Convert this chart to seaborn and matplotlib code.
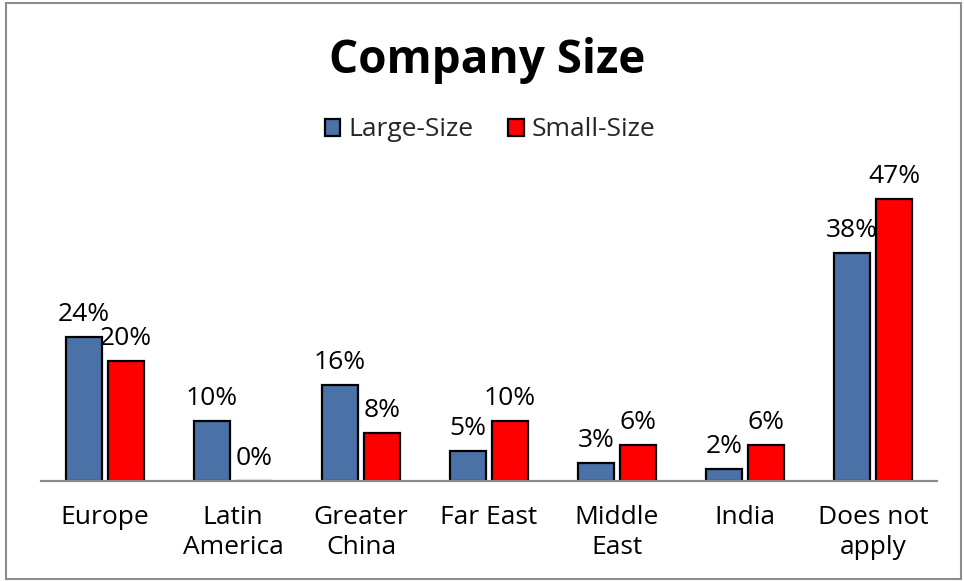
import matplotlib
matplotlib.use("Agg")
import matplotlib.pyplot as plt
import seaborn as sns
import pandas as pd
from matplotlib.patches import Rectangle

categories = ["Europe", "Latin\nAmerica", "Greater\nChina", "Far East", "Middle\nEast", "India", "Does not\napply"]
large_size = [24, 10, 16, 5, 3, 2, 38]
small_size = [20, 0, 8, 10, 6, 6, 47]
series = ["Large-Size", "Small-Size"]
colors = ["#4A72A6", "#FF0000"]

df = pd.DataFrame({
    "Region": categories * 2,
    "Value": large_size + small_size,
    "Series": [series[0]] * len(categories) + [series[1]] * len(categories),
})

sns.set_theme(style="white")
plt.rcParams["font.family"] = ["Open Sans", "DejaVu Sans"]

W, H = 964, 581
fig = plt.figure(figsize=(W / 100, H / 100), dpi=100)
ax = fig.add_axes([41 / W, (H - 481) / H, 896 / W, 300 / H])

sns.barplot(data=df, x="Region", y="Value", hue="Series", palette=colors,
            order=categories, hue_order=series, width=0.656, gap=0.14,
            saturation=1, edgecolor="black", linewidth=1.6, ax=ax, legend=True)

ax.set_ylim(0, 50)
ax.set_xlim(-0.5, len(categories) - 0.5)
ax.set_xlabel("")
ax.set_ylabel("")
ax.set_yticks([])
for s in ["top", "right", "left"]:
    ax.spines[s].set_visible(False)
ax.spines["bottom"].set_color("#8C8C8C")
ax.spines["bottom"].set_linewidth(1.6)
ax.tick_params(axis="x", length=0, labelsize=19, pad=17, colors="black")
for t in ax.get_xticklabels():
    t.set_linespacing(1.3)

for container in ax.containers:
    ax.bar_label(container, labels=[f"{v:.0f}%" for v in container.datavalues],
                 padding=7, fontsize=19, color="black")

leg = ax.legend(loc="center", bbox_to_anchor=(490 / W, (H - 130) / H),
                bbox_transform=fig.transFigure, ncol=2, frameon=False,
                fontsize=19, handlelength=0.6, handleheight=0.6,
                handletextpad=0.3, columnspacing=1.3)

fig.text(487 / W, (H - 60) / H, "Company Size", ha="center", va="center",
         fontsize=33, fontweight="bold", color="black")

fig.patches.append(Rectangle((6 / W, 2 / H), 955 / W, 576 / H, transform=fig.transFigure,
                             fill=False, edgecolor="#8C8C8C", linewidth=1.5))

fig.savefig("out.png", dpi=100, facecolor="white")
